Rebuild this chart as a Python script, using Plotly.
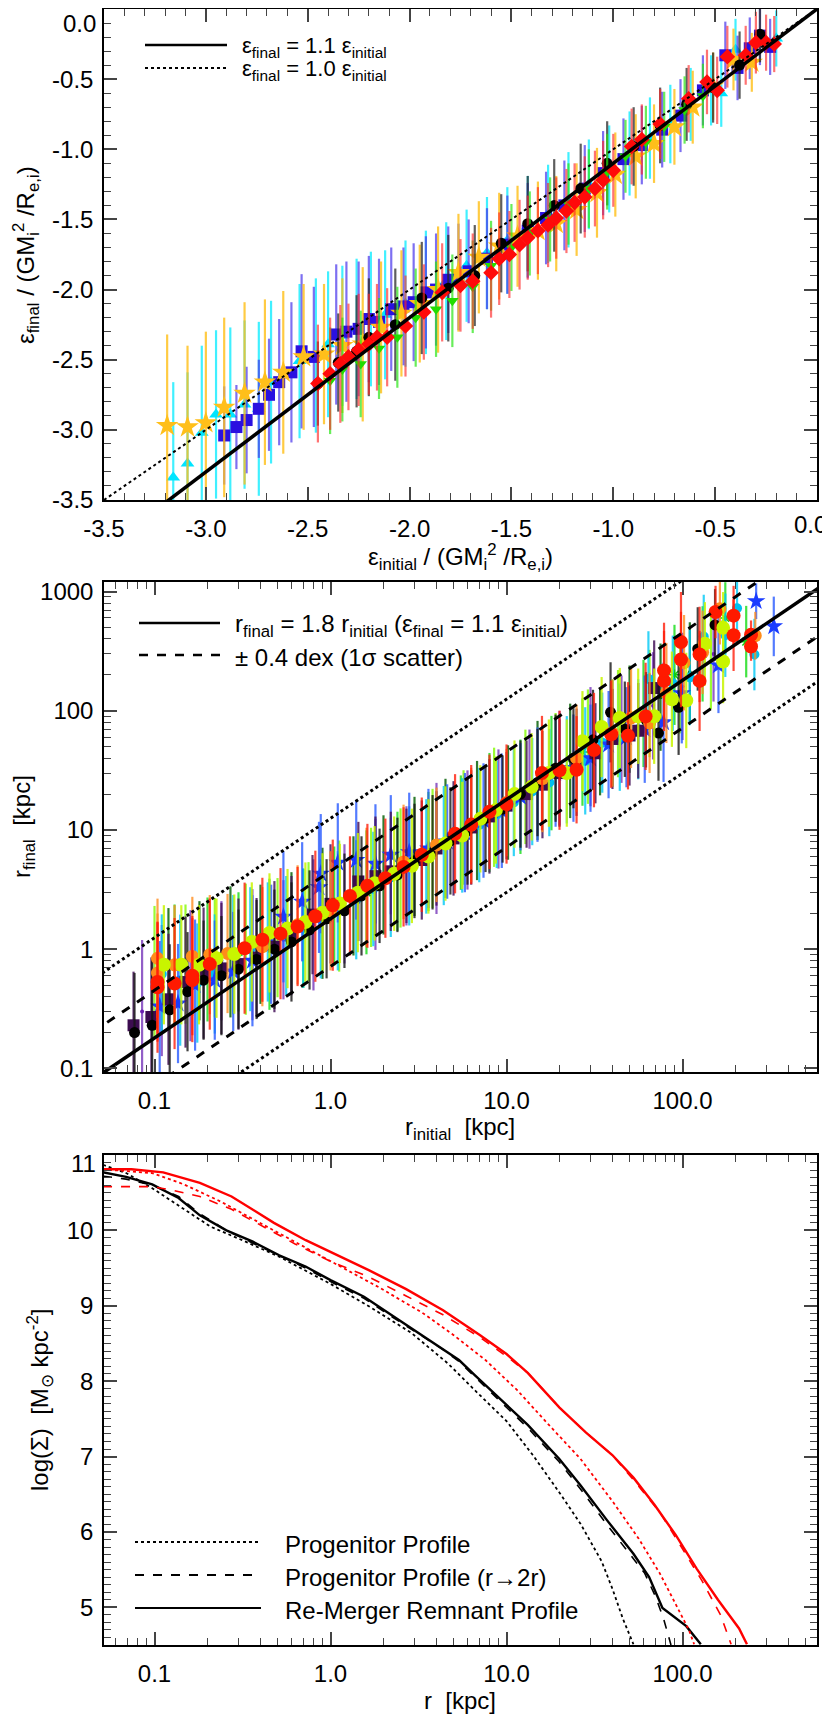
import plotly.graph_objects as go

# page body keeps its default 8px margin, so the figure is 8px smaller than the window
OFF = 8
W, H = 830 - OFF, 1718 - OFF

# ---------------- panel 1 : binding energy (final vs initial) ----------------
E_STAR_X = [-3.19, -3.09, -3.00, -2.91, -2.81, -2.71, -2.62, -2.52, -2.42, -2.33,
            -2.23, -2.14, -2.04, -1.95, -1.86, -1.76, -1.66, -1.56, -1.47, -1.37,
            -1.28, -1.18, -1.08, -0.99, -0.89, -0.80, -0.70, -0.61, -0.51, -0.41, -0.32]
E_STAR_Y = [-2.97, -2.98, -2.95, -2.84, -2.74, -2.66, -2.59, -2.48, -2.46, -2.40,
            -2.39, -2.27, -2.17, -2.10, -2.00, -1.88, -1.77, -1.69, -1.62, -1.58,
            -1.53, -1.43, -1.31, -1.18, -1.05, -0.96, -0.84, -0.70, -0.55, -0.36, -0.38]
E_STAR_E = [0.65, 0.58, 0.65, 0.64, 0.65, 0.59, 0.58, 0.52, 0.50, 0.48,
            0.55, 0.47, 0.45, 0.42, 0.45, 0.42, 0.40, 0.38, 0.36, 0.35,
            0.34, 0.33, 0.32, 0.30, 0.30, 0.28, 0.27, 0.26, 0.24, 0.22, 0.21]

E_TRI_X = [-3.16, -3.09, -3.02, -2.95, -2.88, -2.81, -2.74, -2.68, -2.54, -2.46,
           -2.40, -2.33, -2.26, -2.19, -2.12, -2.02, -1.92, -1.82, -1.72, -1.62,
           -1.52, -1.42, -1.32, -1.22, -1.12, -1.02, -0.92, -0.82, -0.72, -0.62,
           -0.52, -0.47, -0.40, -0.20]
E_TRI_Y = [-3.34, -3.24, -3.02, -2.89, -2.89, -2.82, -2.85, -2.66, -2.51, -2.47,
           -2.39, -2.33, -2.28, -2.21, -2.18, -2.10, -2.02, -1.94, -1.83, -1.74,
           -1.65, -1.55, -1.46, -1.36, -1.25, -1.14, -1.03, -0.92, -0.82, -0.68,
           -0.58, -0.60, -0.29, -0.21]
E_TRI_E = [0.68, 0.65, 0.62, 0.60, 0.62, 0.60, 0.62, 0.58, 0.55, 0.55,
           0.52, 0.50, 0.50, 0.48, 0.46, 0.45, 0.44, 0.42, 0.40, 0.40,
           0.38, 0.36, 0.35, 0.34, 0.32, 0.31, 0.30, 0.29, 0.28, 0.26,
           0.25, 0.24, 0.22, 0.20]

E_SQ_X = [-2.91, -2.85, -2.80, -2.74, -2.69, -2.64, -2.58, -2.53, -2.47, -2.36,
          -2.31, -2.25, -2.20, -2.15, -2.09, -2.03, -1.98, -1.92, -1.87, -1.81,
          -1.76, -1.71, -1.62, -1.52, -1.42, -1.33, -1.24, -1.14, -1.05, -0.95,
          -0.86, -0.76, -0.67, -0.56, -0.45, -0.39, -0.33, -0.28, -0.23]
E_SQ_Y = [-3.04, -2.98, -2.93, -2.85, -2.75, -2.66, -2.59, -2.44, -2.48, -2.32,
          -2.30, -2.28, -2.21, -2.23, -2.14, -2.12, -2.09, -2.02, -2.00, -1.93,
          -1.91, -1.87, -1.78, -1.68, -1.58, -1.49, -1.40, -1.28, -1.17, -1.07,
          -0.97, -0.86, -0.76, -0.58, -0.33, -0.42, -0.28, -0.19, -0.27]
E_SQ_E = [0.35, 0.30, 0.38, 0.35, 0.40, 0.45, 0.50, 0.55, 0.50, 0.50,
          0.50, 0.48, 0.45, 0.45, 0.44, 0.42, 0.42, 0.40, 0.40, 0.38,
          0.38, 0.37, 0.36, 0.35, 0.34, 0.33, 0.32, 0.31, 0.30, 0.29,
          0.28, 0.27, 0.26, 0.25, 0.24, 0.23, 0.22, 0.21, 0.20]

E_CIR_X = [-2.45, -2.35, -2.26, -2.20, -2.07, -1.94, -1.81, -1.68, -1.55, -1.42,
           -1.29, -1.16, -1.03, -0.90, -0.77, -0.64, -0.51, -0.38, -0.28]
E_CIR_Y = [-2.67, -2.52, -2.44, -2.34, -2.25, -2.06, -1.99, -1.90, -1.67, -1.53,
           -1.40, -1.28, -1.10, -0.98, -0.83, -0.68, -0.56, -0.40, -0.18]
E_CIR_E = [0.30, 0.35, 0.40, 0.42, 0.40, 0.40, 0.38, 0.36, 0.35, 0.34,
           0.33, 0.32, 0.30, 0.28, 0.27, 0.26, 0.25, 0.24, 0.20]

E_DTRI_X = [-2.39, -2.33, -2.24, -2.15, -2.06, -1.97, -1.87, -1.79, -1.69, -1.60,
            -1.50, -1.41, -1.31, -1.22, -1.12, -1.03, -0.94, -0.84, -0.75, -0.65, -0.56]
E_DTRI_Y = [-2.65, -2.57, -2.53, -2.42, -2.34, -2.20, -2.14, -2.08, -1.98, -1.83,
            -1.70, -1.60, -1.50, -1.39, -1.28, -1.16, -1.05, -0.95, -0.84, -0.72, -0.62]
E_DTRI_E = [0.38, 0.37, 0.38, 0.36, 0.36, 0.35, 0.34, 0.33, 0.33, 0.32,
            0.31, 0.30, 0.30, 0.29, 0.28, 0.27, 0.26, 0.26, 0.25, 0.24, 0.23]

E_DIA_X = [-2.45, -2.39, -2.34, -2.30, -2.25, -2.20, -2.16, -2.11, -2.02, -1.93,
           -1.84, -1.75, -1.69, -1.60, -1.56, -1.51, -1.46, -1.42, -1.37, -1.32,
           -1.28, -1.23, -1.19, -1.14, -1.09, -1.05, -1.00, -0.91, -0.86, -0.77,
           -0.63, -0.54, -0.49, -0.44, -0.35, -0.30, -0.25, -0.21]
E_DIA_Y = [-2.67, -2.60, -2.53, -2.48, -2.43, -2.39, -2.34, -2.34, -2.26, -2.16,
           -2.02, -1.97, -1.94, -1.88, -1.78, -1.75, -1.68, -1.63, -1.58, -1.54,
           -1.49, -1.44, -1.38, -1.34, -1.28, -1.22, -1.15, -0.98, -0.93, -0.82,
           -0.64, -0.52, -0.58, -0.34, -0.33, -0.24, -0.24, -0.25]
E_DIA_E = [0.42, 0.40, 0.42, 0.38, 0.40, 0.36, 0.38, 0.35, 0.36, 0.34,
           0.35, 0.33, 0.34, 0.32, 0.33, 0.31, 0.32, 0.30, 0.31, 0.30,
           0.29, 0.30, 0.28, 0.29, 0.27, 0.28, 0.26, 0.27, 0.25, 0.25,
           0.24, 0.23, 0.24, 0.22, 0.21, 0.22, 0.20, 0.20]

E_LINE_X = [-3.5, 0.0]
E_SLOPES = [1.1, 1.0]

# ---------------- panel 2 : radius (final vs initial) ----------------
R_VIO_X = [0.085, 0.11, 0.16, 0.24, 0.36, 0.54, 0.8, 1.2, 1.8, 2.7,
           4.0, 6.0, 9.0, 13.5, 20, 30, 45, 68, 100, 150]
R_VIO_Y = [0.3, 0.45, 0.6, 0.8, 0.9, 1.2, 1.6, 2.4, 3.5, 5,
           7, 10, 15, 22, 33, 50, 70, 110, 160, 300]
R_VIO_E = [0.6, 0.55, 0.55, 0.5, 0.55, 0.5, 0.55, 0.5, 0.55, 0.5,
           0.55, 0.5, 0.5, 0.5, 0.48, 0.5, 0.45, 0.45, 0.45, 0.4]

R_DKG_X = [0.12, 0.18, 0.27, 0.4, 0.6, 0.9, 1.35, 2.0, 3.0, 4.5,
           6.8, 10.2, 15, 23, 34, 50, 75, 110]
R_DKG_Y = [0.7, 0.8, 0.95, 1.1, 1.4, 2.0, 2.8, 4.2, 6.0, 8.5,
           12, 17, 26, 38, 55, 85, 130, 210]
R_DKG_E = [0.5, 0.5, 0.55, 0.5, 0.5, 0.55, 0.5, 0.5, 0.5, 0.5,
           0.5, 0.48, 0.5, 0.48, 0.45, 0.45, 0.45, 0.42]

R_LIM_X = [0.1, 0.15, 0.22, 0.33, 0.5, 0.75, 1.12, 1.7, 2.5, 3.8,
           5.7, 8.5, 12.8, 19, 29, 43, 65, 97, 145]
R_LIM_Y = [0.65, 0.75, 0.85, 1.0, 1.25, 1.7, 2.3, 3.3, 4.8, 7.0,
           10.5, 15.5, 23, 34, 50, 78, 115, 170, 260]
R_LIM_E = [0.55, 0.5, 0.5, 0.55, 0.5, 0.5, 0.55, 0.5, 0.5, 0.5,
           0.48, 0.5, 0.48, 0.45, 0.48, 0.45, 0.45, 0.42, 0.4]

R_GRN_X = [0.13, 0.2, 0.3, 0.45, 0.7, 1.05, 1.6, 2.4, 3.6, 5.5,
           8, 12, 18, 27, 40, 60, 90, 130, 175, 230]
R_GRN_Y = [0.75, 0.82, 0.95, 1.1, 1.5, 2.3, 3.0, 4.5, 6.6, 9.5,
           14, 19, 30, 45, 65, 95, 200, 300, 600, 380]
R_GRN_E = [0.5, 0.52, 0.5, 0.55, 0.5, 0.5, 0.52, 0.5, 0.5, 0.48,
           0.5, 0.48, 0.48, 0.45, 0.45, 0.45, 0.42, 0.4, 0.3, 0.3]

R_CYA_X = [0.11, 0.14, 0.175, 0.22, 0.28, 0.35, 0.44, 0.56, 0.7, 0.88,
           1.1, 1.4, 1.75, 2.2, 2.8, 3.5, 4.4, 5.6, 7, 8.8,
           11, 14, 17.5, 22, 28, 35, 44, 56, 64, 88,
           110, 132, 175, 204, 256]
R_CYA_Y = [0.62, 0.55, 0.52, 0.62, 0.9, 1.0, 1.15, 1.3, 1.5, 1.8,
           2.1, 2.6, 3.2, 4.0, 5.0, 6.0, 7.4, 9.0, 11, 13.5,
           17, 21, 25, 32, 38, 54, 60, 70, 185, 170,
           190, 420, 430, 725, 296]
R_CYA_E = [0.5, 0.55, 0.5, 0.5, 0.5, 0.52, 0.5, 0.5, 0.5, 0.5,
           0.5, 0.5, 0.48, 0.5, 0.5, 0.48, 0.5, 0.48, 0.48, 0.45,
           0.45, 0.45, 0.45, 0.45, 0.45, 0.42, 0.45, 0.42, 0.4, 0.4,
           0.4, 0.35, 0.35, 0.3, 0.3]

R_BLU_X = [0.107, 0.136, 0.17, 0.22, 0.28, 0.36, 0.46, 0.54, 0.69, 0.86,
           0.88, 1.1, 1.4, 1.8, 2.2, 2.8, 3.6, 4.6, 5.8, 7.4,
           9.4, 12, 15, 19, 24, 30, 38, 48, 61, 78,
           99, 160, 262, 330]
R_BLU_Y = [0.33, 0.35, 0.50, 0.55, 0.65, 0.8, 1.1, 1.87, 2.5, 3.3,
           4.3, 5.3, 5.6, 5.2, 6.2, 6.5, 7, 8, 9.5, 12,
           14.5, 19, 24, 30, 33, 40, 52, 60, 70, 80,
           140, 240, 830, 510]
R_BLU_E = [0.55, 0.5, 0.55, 0.5, 0.5, 0.55, 0.5, 0.55, 0.5, 0.55,
           0.5, 0.5, 0.5, 0.5, 0.5, 0.5, 0.5, 0.48, 0.5, 0.48,
           0.48, 0.45, 0.48, 0.45, 0.45, 0.45, 0.45, 0.42, 0.45, 0.5,
           0.42, 0.4, 0.15, 0.25]

R_PUR_X = [0.076, 0.096, 0.12, 0.15, 0.19, 0.24, 0.3, 0.38, 0.48, 0.6,
           0.79, 1.0, 1.44, 1.8, 2.2, 2.7, 3.3, 4, 5, 6.3,
           8, 10, 13, 16, 20, 25, 32, 40, 50, 56, 69]
R_PUR_Y = [0.23, 0.27, 0.38, 0.53, 0.63, 0.69, 0.75, 0.85, 1.05, 1.3,
           1.95, 2.4, 3.7, 4.1, 4.5, 5.0, 5.6, 7, 8.5, 10.5,
           13, 16, 20, 24, 30, 37, 44, 58, 62, 68, 155]
R_PUR_E = [0.45, 0.5, 0.55, 0.55, 0.55, 0.55, 0.55, 0.5, 0.55, 0.5,
           0.5, 0.5, 0.5, 0.5, 0.5, 0.48, 0.5, 0.48, 0.48, 0.48,
           0.48, 0.45, 0.45, 0.45, 0.45, 0.45, 0.42, 0.42, 0.42, 0.4, 0.4]

R_BLK_X = [0.077, 0.097, 0.122, 0.154, 0.19, 0.24, 0.3, 0.38, 0.48, 0.6,
           0.76, 0.95, 1.2, 1.5, 1.9, 2.4, 3.0, 3.8, 4.8, 6.0,
           7.6, 9.5, 12, 15, 19, 24, 31, 39, 47, 62,
           73, 95, 122, 153]
R_BLK_Y = [0.20, 0.23, 0.31, 0.44, 0.55, 0.6, 0.68, 0.82, 1.0, 1.15,
           1.45, 1.8, 2.1, 2.8, 3.4, 4.2, 5.5, 6.5, 8.1, 9.8,
           12.5, 15, 20, 25, 33, 40, 57, 97, 70, 84,
           65, 107, 330, 525]
R_BLK_E = [0.5, 0.55, 0.55, 0.5, 0.5, 0.5, 0.5, 0.5, 0.5, 0.5,
           0.5, 0.5, 0.48, 0.5, 0.48, 0.48, 0.48, 0.48, 0.45, 0.45,
           0.45, 0.45, 0.45, 0.45, 0.45, 0.42, 0.42, 0.42, 0.4, 0.4,
           0.4, 0.4, 0.35, 0.3]

R_ORA_X = [0.104, 0.104, 0.13, 0.164, 0.206, 0.26, 0.41, 0.65, 1.0, 1.6,
           2.6, 4.0, 6.3, 10, 16, 25, 40, 51, 65, 81,
           102, 130, 163, 259]
R_ORA_Y = [0.84, 0.63, 0.74, 0.87, 0.90, 0.92, 1.05, 1.6, 2.1, 3.3,
           5.4, 7.5, 11, 17, 27, 40, 65, 87, 79, 141,
           253, 309, 718, 426]
R_ORA_E = [0.5, 0.5, 0.5, 0.5, 0.5, 0.5, 0.5, 0.5, 0.5, 0.5,
           0.48, 0.48, 0.48, 0.45, 0.45, 0.45, 0.45, 0.42, 0.42, 0.42,
           0.4, 0.35, 0.3, 0.2]

R_YGR_X = [0.113, 0.142, 0.179, 0.225, 0.284, 0.357, 0.45, 0.57, 0.72, 0.90,
           1.13, 1.43, 1.78, 2.3, 2.9, 3.6, 4.5, 5.6, 7.1, 8.7,
           11.1, 13.9, 17.4, 22, 27, 34.7, 44, 56, 69, 87,
           105, 134, 170, 170]
R_YGR_Y = [0.74, 0.74, 0.74, 0.84, 0.91, 1.15, 1.37, 1.49, 1.69, 2.02,
           2.42, 2.98, 3.57, 4.3, 5.0, 6.0, 7.7, 9.0, 12.4, 14.7,
           20, 23, 30, 30, 55.6, 73, 87, 90, 90, 125,
           122, 364, 259, 496]
R_YGR_E = [0.5, 0.5, 0.5, 0.5, 0.5, 0.5, 0.5, 0.5, 0.5, 0.5,
           0.5, 0.5, 0.48, 0.48, 0.48, 0.48, 0.48, 0.45, 0.45, 0.45,
           0.45, 0.45, 0.45, 0.45, 0.42, 0.42, 0.42, 0.4, 0.4, 0.4,
           0.4, 0.35, 0.35, 0.3]

R_RED_X = [0.104, 0.104, 0.13, 0.164, 0.164, 0.206, 0.325, 0.41, 0.52, 0.65,
           0.82, 1.03, 1.29, 1.62, 2.05, 2.6, 3.3, 5.1, 6.3, 8.0,
           10.0, 15.9, 20.0, 25.0, 31.4, 39.3, 49.0, 61.7, 78.5, 78.5,
           98.0, 98.0, 125.0, 125.0, 154.0, 195.0, 195.0, 245.0, 245.0]
R_RED_Y = [0.48, 0.53, 0.515, 0.60, 0.55, 0.75, 1.02, 1.2, 1.35, 1.55,
           1.89, 2.34, 2.8, 3.4, 3.94, 4.9, 6.2, 9.3, 11.1, 14.2,
           16.5, 30, 31.7, 32, 46.8, 63.6, 61.7, 89.7, 178, 218,
           377, 269, 178, 297, 673, 628, 430, 434, 346]
R_RED_E = [0.55, 0.5, 0.55, 0.5, 0.52, 0.55, 0.55, 0.52, 0.55, 0.5,
           0.55, 0.55, 0.5, 0.52, 0.5, 0.5, 0.48, 0.5, 0.5, 0.48,
           0.5, 0.48, 0.5, 0.45, 0.48, 0.45, 0.45, 0.45, 0.42, 0.4,
           0.42, 0.4, 0.42, 0.4, 0.22, 0.25, 0.3, 0.12, 0.12]

R_LINE_X = [0.03, 1000.0]
R_FACTORS = {"solid": [1.8], "dash": [4.52, 0.717], "dot": [12.5, 0.30]}

# ---------------- panel 3 : surface density profiles ----------------
BLK_SOLID_X = [0.051, 0.069, 0.097, 0.137, 0.181, 0.256, 0.362, 0.511, 0.722, 1.0,
               1.55, 2.18, 3.09, 4.36, 5.37, 6.6, 10.0, 13.2, 19.9, 26.3,
               37.1, 52.6, 64.6, 76.9, 105, 127]
BLK_SOLID_Y = [10.77, 10.71, 10.61, 10.43, 10.20, 10.00, 9.85, 9.67, 9.52, 9.34,
               9.12, 8.89, 8.66, 8.43, 8.28, 8.08, 7.68, 7.42, 6.97, 6.62,
               6.16, 5.71, 5.40, 4.99, 4.75, 4.51]
BLK_DASH_X = [0.051, 0.069, 0.097, 0.137, 0.181, 0.256, 0.362, 0.511, 0.722, 1.0,
              1.55, 2.18, 3.09, 4.36, 5.37, 6.6, 10.0, 13.2, 19.9, 26.3,
              37.1, 52.6, 61.0, 70.0, 78.0, 86.0]
BLK_DASH_Y = [10.72, 10.68, 10.60, 10.45, 10.22, 10.00, 9.83, 9.66, 9.50, 9.32,
              9.10, 8.87, 8.64, 8.42, 8.26, 8.06, 7.65, 7.38, 6.93, 6.57,
              6.10, 5.65, 5.45, 5.15, 4.85, 4.50]
BLK_DOT_X = [0.051, 0.069, 0.097, 0.137, 0.208, 0.315, 0.512, 1.0, 1.66, 2.88,
             4.67, 6.6, 10.0, 14.1, 20.0, 26.3, 34.7, 39.9, 45.8, 52.6]
BLK_DOT_Y = [10.87, 10.76, 10.56, 10.33, 10.05, 9.87, 9.65, 9.29, 8.99, 8.64,
             8.23, 7.88, 7.47, 7.02, 6.52, 6.11, 5.61, 5.25, 4.85, 4.51]

RED_SOLID_X = [0.051, 0.074, 0.112, 0.181, 0.274, 0.477, 0.723, 1.09, 1.66, 2.69,
               4.36, 7.08, 10.0, 13.2, 20.0, 28.2, 39.9, 52.6, 69.3, 91.4,
               120.5, 158.9, 209.5, 232.3]
RED_SOLID_Y = [10.81, 10.81, 10.77, 10.63, 10.45, 10.10, 9.87, 9.67, 9.47, 9.22,
               8.94, 8.61, 8.36, 8.11, 7.65, 7.32, 7.02, 6.72, 6.36, 5.96,
               5.51, 5.10, 4.72, 4.51]
RED_DASH_X = [0.051, 0.097, 0.128, 0.181, 0.274, 0.416, 0.629, 1.02, 1.66, 2.69,
              4.36, 7.08, 10.0, 13.2, 20.0, 28.2, 39.9, 52.6, 74.3, 97.9,
              129.1, 164.4, 188.8]
RED_DASH_Y = [10.58, 10.58, 10.53, 10.45, 10.28, 10.05, 9.82, 9.58, 9.38, 9.13,
              8.88, 8.58, 8.33, 8.11, 7.65, 7.32, 7.02, 6.69, 6.26, 5.81,
              5.35, 4.90, 4.51]
RED_DOT_X = [0.051, 0.097, 0.147, 0.239, 0.362, 0.629, 1.09, 1.90, 3.31, 5.01,
             7.59, 11.5, 17.4, 26.3, 39.9, 56.4, 74.3, 91.4, 108.7, 116.4]
RED_DOT_Y = [10.81, 10.76, 10.61, 10.38, 10.15, 9.85, 9.55, 9.24, 8.91, 8.61,
             8.28, 7.88, 7.42, 6.97, 6.41, 5.91, 5.45, 5.05, 4.70, 4.51]

FONT = "Liberation Sans, Arial, Helvetica, sans-serif"


def px(x):
    # window pixel -> paper fraction
    return (x - OFF) / W


def py(y):
    return 1 - (y - OFF) / H


fig = go.Figure()


def lin_points(x, y, e, color, bar, symbol, size):
    fig.add_trace(go.Scatter(
        x=x, y=y, xaxis="x", yaxis="y", mode="markers",
        marker=dict(symbol=symbol, size=size, color=color, line=dict(width=0)),
        error_y=dict(type="data", array=e, color=bar, thickness=2.2, width=0),
        showlegend=False))


def log_points(x, y, e, color, bar, symbol, size, mline=0):
    up = [v * (10 ** d - 1) for v, d in zip(y, e)]
    dn = [v * (1 - 10 ** -d) for v, d in zip(y, e)]
    fig.add_trace(go.Scatter(
        x=x, y=y, xaxis="x2", yaxis="y2", mode="markers",
        marker=dict(symbol=symbol, size=size, color=color,
                    line=dict(width=mline, color=color)),
        error_y=dict(type="data", symmetric=False, array=up, arrayminus=dn,
                     color=bar, thickness=2.2, width=0),
        showlegend=False))


# panel 1 points
lin_points(E_TRI_X, E_TRI_Y, E_TRI_E, "#00E5FF", "rgba(0,235,255,0.75)", "triangle-up", 12)
lin_points(E_SQ_X, E_SQ_Y, E_SQ_E, "#2A10E0", "rgba(70,50,235,0.7)", "square", 12)
lin_points(E_STAR_X, E_STAR_Y, E_STAR_E, "#FFBF1A", "rgba(255,190,20,0.8)", "star", 17)
lin_points(E_CIR_X, E_CIR_Y, E_CIR_E, "#000000", "rgba(40,40,40,0.75)", "circle", 11)
lin_points(E_DTRI_X, E_DTRI_Y, E_DTRI_E, "#22DD00", "rgba(40,230,20,0.7)", "triangle-down", 11)
lin_points(E_DIA_X, E_DIA_Y, E_DIA_E, "#FF0A0A", "rgba(255,40,40,0.65)", "diamond", 12)

for s, dash, wd in zip(E_SLOPES, ["solid", "dot"], [3.5, 2]):
    fig.add_trace(go.Scatter(x=E_LINE_X, y=[s * v for v in E_LINE_X], xaxis="x", yaxis="y",
                             mode="lines", line=dict(color="black", width=wd, dash=dash),
                             showlegend=False))

# panel 2 points
log_points(R_VIO_X, R_VIO_Y, R_VIO_E, "#6A1FB0", "rgba(110,40,180,0.75)", "circle", 4)
log_points(R_DKG_X, R_DKG_Y, R_DKG_E, "#0A5A0A", "rgba(10,100,10,0.85)", "circle", 4)
log_points(R_LIM_X, R_LIM_Y, R_LIM_E, "#7CFC00", "rgba(130,250,0,0.8)", "circle", 4)
log_points(R_GRN_X, R_GRN_Y, R_GRN_E, "#10D010", "rgba(20,220,20,0.8)", "asterisk-open", 9, 1.5)
log_points(R_CYA_X, R_CYA_Y, R_CYA_E, "#00C0F0", "rgba(0,200,245,0.8)", "circle", 10)
log_points(R_BLU_X, R_BLU_Y, R_BLU_E, "#1A3CFF", "rgba(40,90,255,0.8)", "star", 14)
log_points(R_PUR_X, R_PUR_Y, R_PUR_E, "#3C0C50", "rgba(70,20,90,0.85)", "square", 12)
log_points(R_BLK_X, R_BLK_Y, R_BLK_E, "#000000", "rgba(20,20,20,0.8)", "circle", 11)
log_points(R_ORA_X, R_ORA_Y, R_ORA_E, "#FF8C1A", "rgba(255,140,30,0.8)", "circle", 13)
log_points(R_YGR_X, R_YGR_Y, R_YGR_E, "#C8F500", "rgba(200,245,0,0.85)", "circle", 14)
log_points(R_RED_X, R_RED_Y, R_RED_E, "#FF1A00", "rgba(255,30,10,0.8)", "circle", 14)

for dash, wd in [("dot", 3), ("dash", 3), ("solid", 3.5)]:
    for f in R_FACTORS[dash]:
        fig.add_trace(go.Scatter(x=R_LINE_X, y=[f * v for v in R_LINE_X], xaxis="x2", yaxis="y2",
                                 mode="lines", line=dict(color="black", width=wd, dash=dash),
                                 showlegend=False))

# panel 3 profiles
profiles = [
    (BLK_DOT_X, BLK_DOT_Y, "black", "dot", 1.8),
    (BLK_DASH_X, BLK_DASH_Y, "black", "dash", 1.6),
    (BLK_SOLID_X, BLK_SOLID_Y, "black", "solid", 2.4),
    (RED_DOT_X, RED_DOT_Y, "#FF0000", "dot", 1.8),
    (RED_DASH_X, RED_DASH_Y, "#FF0000", "dash", 1.6),
    (RED_SOLID_X, RED_SOLID_Y, "#FF0000", "solid", 2.4),
]
for x, y, c, dash, wd in profiles:
    fig.add_trace(go.Scatter(x=x, y=y, xaxis="x3", yaxis="y3", mode="lines",
                             line=dict(color=c, width=wd, dash=dash), showlegend=False))

# ---------------- axes ----------------
tickfont = dict(family=FONT, size=24, color="black")
common = dict(showline=True, linecolor="black", linewidth=1.5, mirror="allticks",
              ticks="inside", ticklen=13, tickwidth=1.5, tickcolor="#444",
              showgrid=False, zeroline=False, tickfont=tickfont, automargin=False,
              ticklabeloverflow="allow")
log_minor = [m * 10 ** e for e in range(-2, 3) for m in range(2, 10)]
log_minor_d = dict(ticks="inside", ticklen=7, tickwidth=1.2, tickcolor="#444", tickvals=log_minor)
lin_minor = dict(ticks="inside", ticklen=7, tickwidth=1.2, tickcolor="#444", dtick=0.1)

xd = [px(104), px(817)]
E_TICKS = [-3.5, -3.0, -2.5, -2.0, -1.5, -1.0, -0.5, 0.0]
E_TICKTEXT = ["-3.5", "-3.0", "-2.5", "-2.0", "-1.5", "-1.0", "-0.5", ""]
RX_TICKS = [0.1, 1, 10, 100]
RX_TICKTEXT = ["0.1", "1.0", "10.0", "100.0"]
RY_TICKS = [0.1, 1, 10, 100, 1000]
RY_TICKTEXT = ["0.1", "1", "10", "100", "1000"]
S_TICKS = [5, 6, 7, 8, 9, 10, 11]
S_TICKTEXT = ["5", "6", "7", "8", "9", "10", ""]

fig.update_layout(
    width=W, height=H, margin=dict(l=0, r=0, t=0, b=0, autoexpand=False),
    paper_bgcolor="white", plot_bgcolor="white",
    font=dict(family=FONT, size=24, color="black"),
    xaxis=dict(common, domain=xd, anchor="y", range=[-3.5, 0.0], tickvals=E_TICKS,
               ticktext=E_TICKTEXT, minor=lin_minor, ticklabelstandoff=6),
    yaxis=dict(common, domain=[py(500), py(9)], anchor="x", range=[-3.5, 0.0], tickvals=E_TICKS,
               ticktext=E_TICKTEXT, minor=lin_minor, ticklabelstandoff=4),
    xaxis2=dict(common, domain=xd, anchor="y2", type="log", range=[-1.287, 2.764],
                tickvals=RX_TICKS, ticktext=RX_TICKTEXT, minor=log_minor_d, ticklabelstandoff=6),
    yaxis2=dict(common, domain=[py(1072), py(582)], anchor="x2", type="log", range=[-1.03, 3.08],
                tickvals=RY_TICKS, ticktext=RY_TICKTEXT, minor=log_minor_d, ticklabelstandoff=4),
    xaxis3=dict(common, domain=xd, anchor="y3", type="log", range=[-1.287, 2.764],
                tickvals=RX_TICKS, ticktext=RX_TICKTEXT, minor=log_minor_d, ticklabelstandoff=6),
    yaxis3=dict(common, domain=[py(1645), py(1155)], anchor="x3", range=[4.5, 11.0],
                tickvals=S_TICKS, ticktext=S_TICKTEXT, minor=lin_minor, ticklabelstandoff=4),
)

# ---------------- titles & legends ----------------
NB = "\u00a0"
ann = [
    ("ε<sub>final</sub> / (GM<sub>i</sub><sup>2</sup> /R<sub>e,i</sub>)", 26, 255, -90, "center"),
    ("ε<sub>initial</sub> / (GM<sub>i</sub><sup>2</sup> /R<sub>e,i</sub>)", 460, 557, 0, "center"),
    ("r<sub>final</sub>" + NB * 2 + "[kpc]", 24, 827, -90, "center"),
    ("r<sub>initial</sub>" + NB * 2 + "[kpc]", 460, 1128, 0, "center"),
    ("log(Σ)" + NB * 2 + "[M<sub>⊙</sub> kpc<sup>-2</sup>]", 40, 1400, -90, "center"),
    ("r" + NB * 2 + "[kpc]", 460, 1700, 0, "center"),
    # edge tick labels that sit slightly off their ticks in the reference
    ("0.0", 98, 24, 0, "right"),
    ("0.0", 829, 524, 0, "right"),
    ("11", 98, 1163, 0, "right"),
]
for t, x, y, a, xa in ann:
    fig.add_annotation(text=t, x=px(x), y=py(y), xref="paper", yref="paper", showarrow=False,
                       textangle=a, xanchor=xa, yanchor="middle",
                       font=dict(family=FONT, size=24, color="black"))

legend_items = [
    (145, 227, 45, "solid", 2.5, 240, "ε<sub>final</sub> = 1.1 ε<sub>initial</sub>", 22),
    (145, 227, 68, "dot", 2, 240, "ε<sub>final</sub> = 1.0 ε<sub>initial</sub>", 22),
    (139, 220, 623, "solid", 2.5, 233,
     "r<sub>final</sub> = 1.8 r<sub>initial</sub> (ε<sub>final</sub> = 1.1 ε<sub>initial</sub>)", 24),
    (139, 220, 655, "dash", 2.5, 233, "± 0.4 dex (1σ scatter)", 24),
    (135, 261, 1542, "dot", 1.8, 283, "Progenitor Profile", 24),
    (135, 261, 1575, "dash", 1.8, 283, "Progenitor Profile (r→2r)", 24),
    (135, 261, 1608, "solid", 2.2, 283, "Re-Merger Remnant Profile", 24),
]
for x0, x1, y, dash, wd, tx, t, fs in legend_items:
    fig.add_shape(type="line", xref="paper", yref="paper", x0=px(x0), x1=px(x1), y0=py(y), y1=py(y),
                  line=dict(color="black", width=wd, dash=dash))
    fig.add_annotation(text=t, x=px(tx), y=py(y + 2), xref="paper", yref="paper", showarrow=False,
                       xanchor="left", yanchor="middle", font=dict(family=FONT, size=fs, color="black"))

fig.write_html("out.html")
